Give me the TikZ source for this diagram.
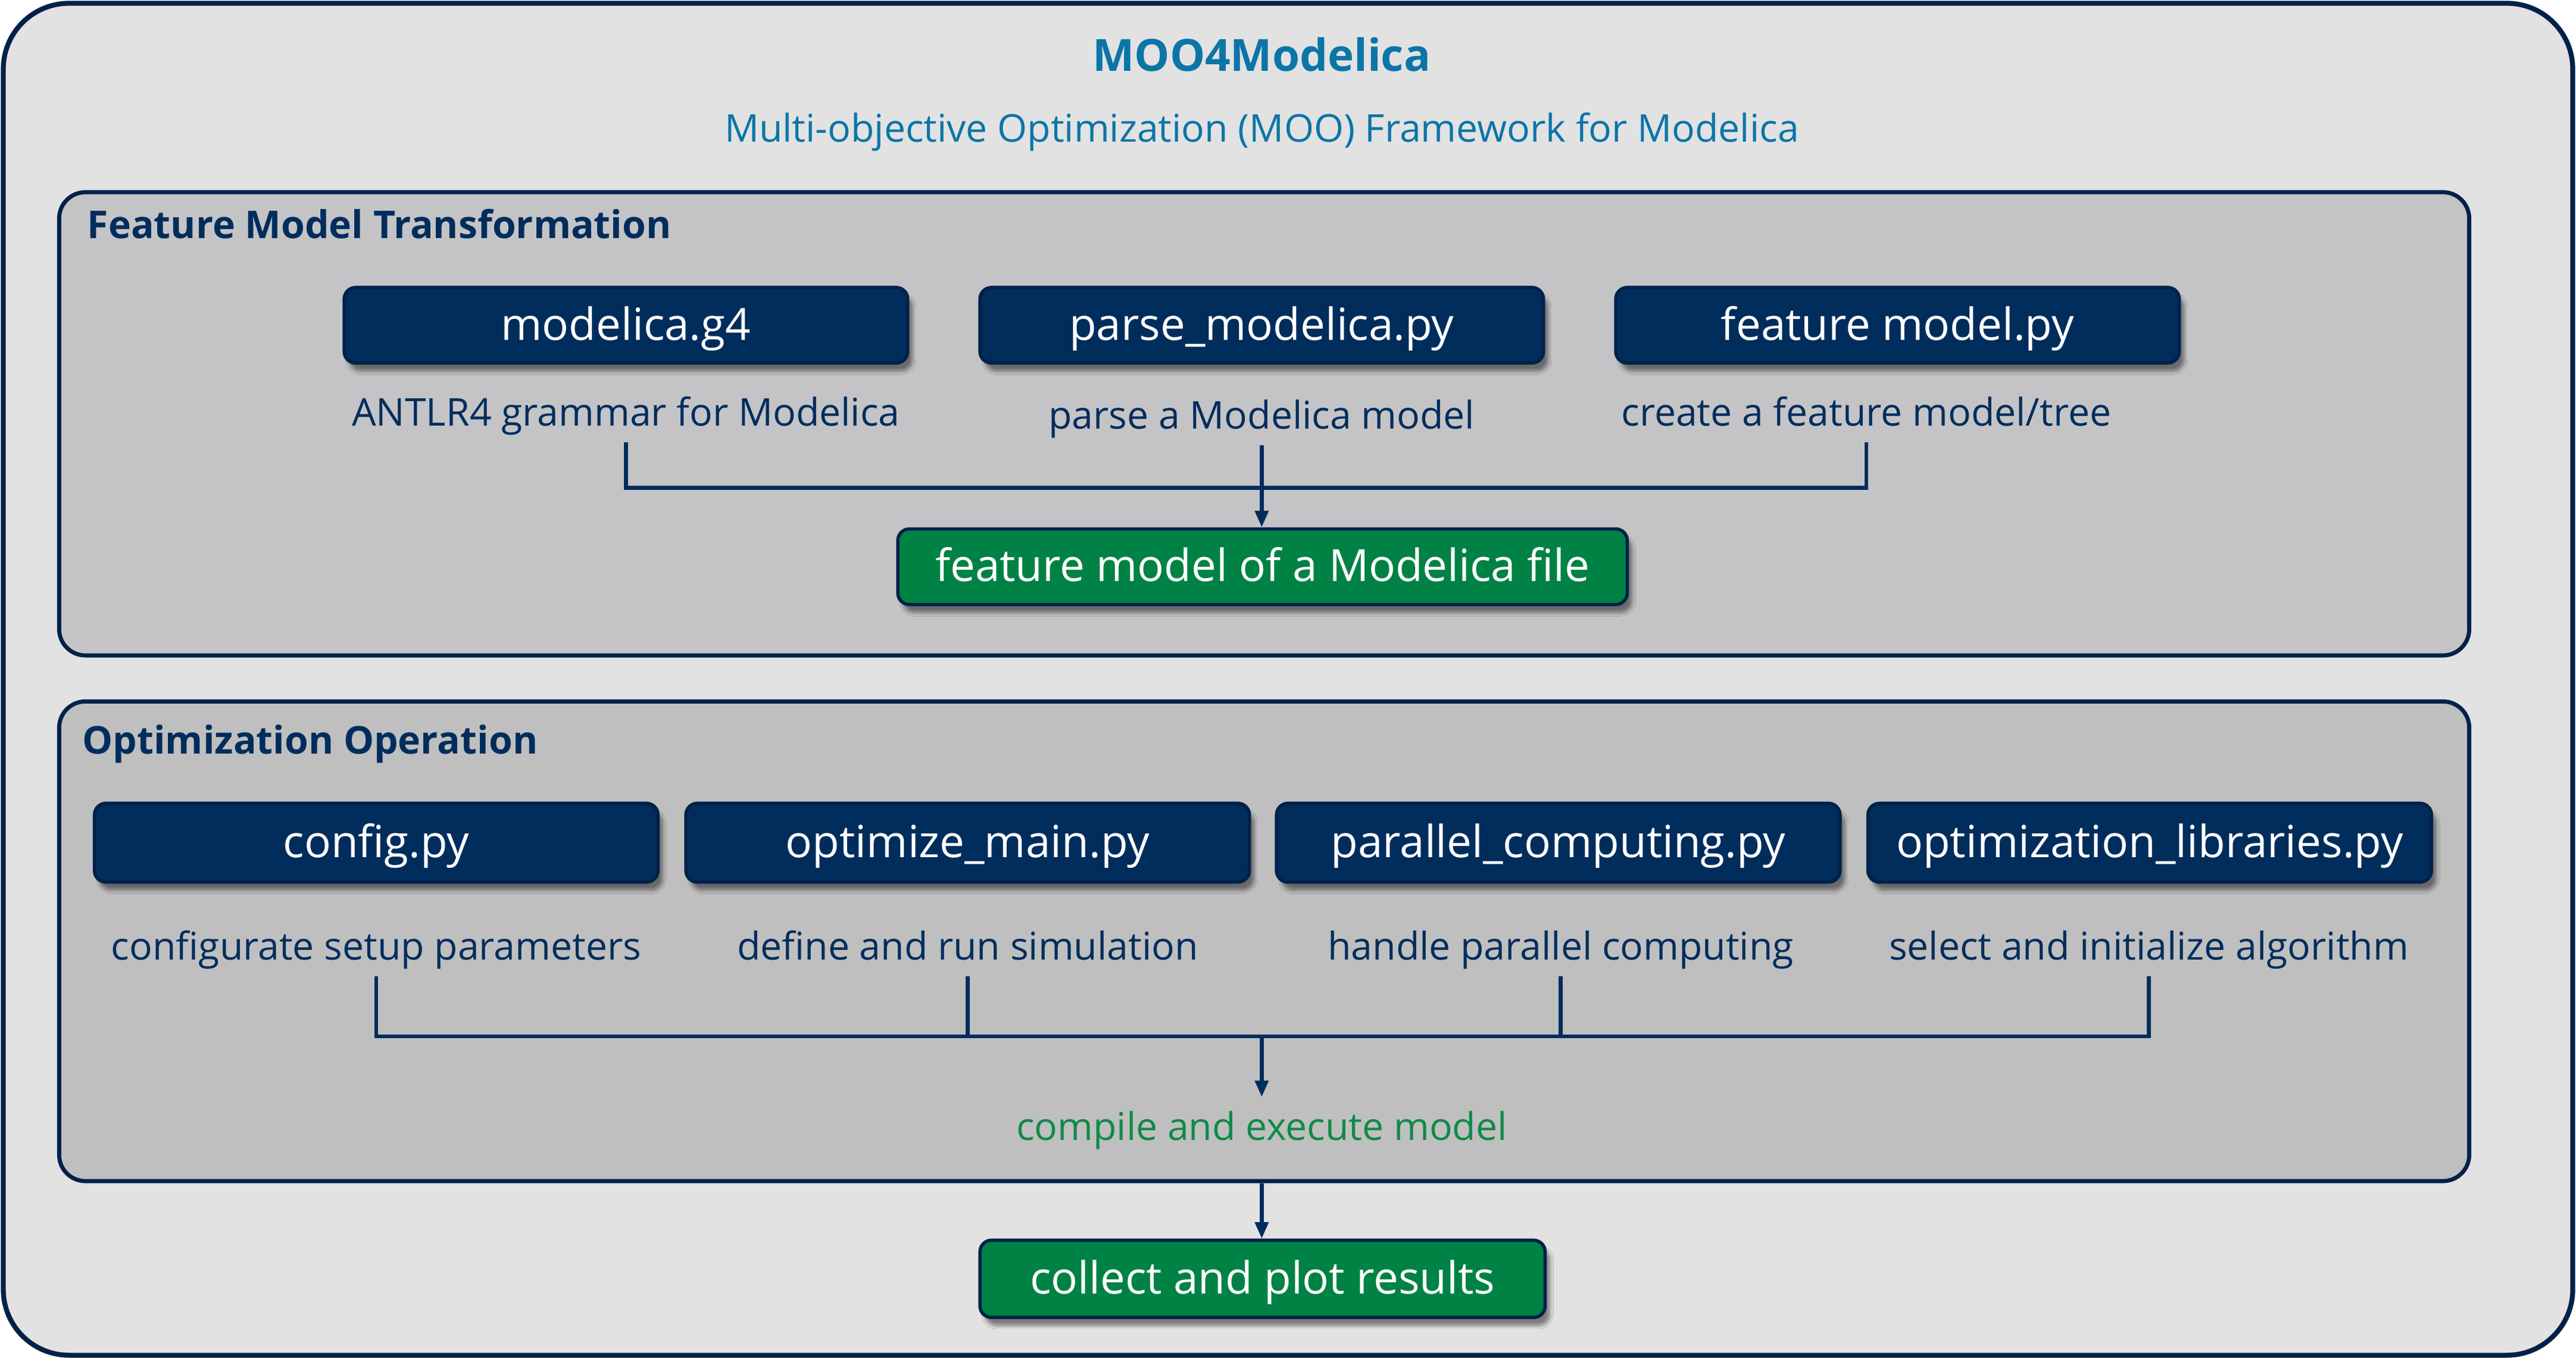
\documentclass[tikz,border=0pt]{standalone}
\usepackage{fontspec}
\setmainfont{Open Sans}
\usetikzlibrary{arrows.meta,shadows.blur,positioning}
\definecolor{navy}{HTML}{002D5C}
\definecolor{navyline}{HTML}{00214A}
\definecolor{greenbox}{HTML}{008245}
\definecolor{titleblue}{HTML}{0B75A8}
\definecolor{greentext}{HTML}{108A48}
\definecolor{outerfill}{HTML}{E2E2E2}
\definecolor{secfill}{HTML}{C4C4C6}
\definecolor{secfilltwo}{HTML}{BFBFC0}
\tikzset{
  outerbox/.style={draw=navyline,line width=3pt,fill=outerfill,rounded corners=40pt},
  section/.style={draw=navyline,line width=2.5pt,fill=secfill,rounded corners=16pt,inner sep=0pt},
  sectitle/.style={anchor=west,font=\fontsize{23.3}{27}\selectfont\bfseries,text=navy,inner sep=0pt,
    text height=18pt,text depth=0pt},
  darkbox/.style={draw=navyline,line width=2pt,fill=navy,rounded corners=7pt,text=white,
    minimum width=343pt,minimum height=46pt,inner sep=0pt,font=\fontsize{27}{31}\selectfont,
    text height=21pt,text depth=3pt,
    blur shadow={shadow xshift=3pt,shadow yshift=-5pt,shadow blur steps=8,shadow opacity=45}},
  greenbox/.style={darkbox,fill=greenbox},
  lbl/.style={text=navy,font=\fontsize{23.3}{27}\selectfont,inner sep=0pt,minimum height=36pt,
    text height=19pt,text depth=2.5pt},
  conn/.style={draw=navy,line width=2.3pt},
  arr/.style={conn,-{Triangle[length=10pt,width=8pt]}}
}
\begin{document}
\begin{tikzpicture}[x=1pt,y=-1pt]
\useasboundingbox (0,0) rectangle (1568,827);
\draw[outerbox] (2,2) rectangle (1566,825);
\node[text=titleblue,font=\fontsize{27}{31}\selectfont\bfseries,inner sep=0pt,text height=21pt,text depth=2.6pt] (title) at (768,34) {MOO4Modelica};
\node[lbl,text=titleblue] (subtitle) at (768,78) {Multi-objective Optimization (MOO) Framework for Modelica};

% section 1
\node[section,minimum width=1467pt,minimum height=282pt] (sec1) at (769.5,258) {};
\node[sectitle] (sec1t) at (53,136) {Feature Model Transformation};
\node[darkbox] (g4) at (381,198) {modelica.g4};
\node[darkbox] (parse) at (768,198) {parse\_modelica.py};
\node[darkbox] (fmpy) at (1155,198) {feature model.py};
\node[lbl] (l1) at (381,251) {ANTLR4 grammar for Modelica};
\node[lbl] (l2) at (768,253) {parse a Modelica model};
\node[lbl] (l3) at (1136,251) {create a feature model/tree};
\node[greenbox,minimum width=444pt] (fm) at (768.5,345) {feature model of a Modelica file};
\coordinate (j1) at (381,297);
\draw[conn] (l1.south) -- (j1) -| (l3.south);
\draw[arr] (l2.south) -- (l2.south |- fm.north);

% section 2
\node[section,fill=secfilltwo,minimum width=1467pt,minimum height=292pt] (sec2) at (769.5,573) {};
\node[sectitle] (sec2t) at (50,450) {Optimization Operation};
\node[darkbox,minimum height=48pt] (cfg) at (229,513) {config.py};
\node[darkbox,minimum height=48pt] (opt) at (589,513) {optimize\_main.py};
\node[darkbox,minimum height=48pt] (par) at (948.5,513) {parallel\_computing.py};
\node[darkbox,minimum height=48pt] (lib) at (1308.5,513) {optimization\_libraries.py};
\node[lbl] (m1) at (229,576) {configurate setup parameters};
\node[lbl] (m2) at (589,576) {define and run simulation};
\node[lbl] (m3) at (950,576) {handle parallel computing};
\node[lbl] (m4) at (1308,576) {select and initialize algorithm};
\coordinate (j2) at (229,631);
\coordinate (j3) at (768,631);
\node[lbl,text=greentext] (comp) at (768,686) {compile and execute model};
\draw[conn] (m1.south) -- (j2) -| (m4.south);
\draw[conn] (m2.south) -- (m2.south |- j2);
\draw[conn] (m3.south) -- (m3.south |- j2);
\draw[arr] (j3) -- (comp.north);

\node[greenbox,minimum width=344pt,minimum height=47pt] (res) at (768.5,778.5) {collect and plot results};
\draw[arr] (comp |- sec2.south) -- (comp |- res.north);
\end{tikzpicture}
\end{document}
